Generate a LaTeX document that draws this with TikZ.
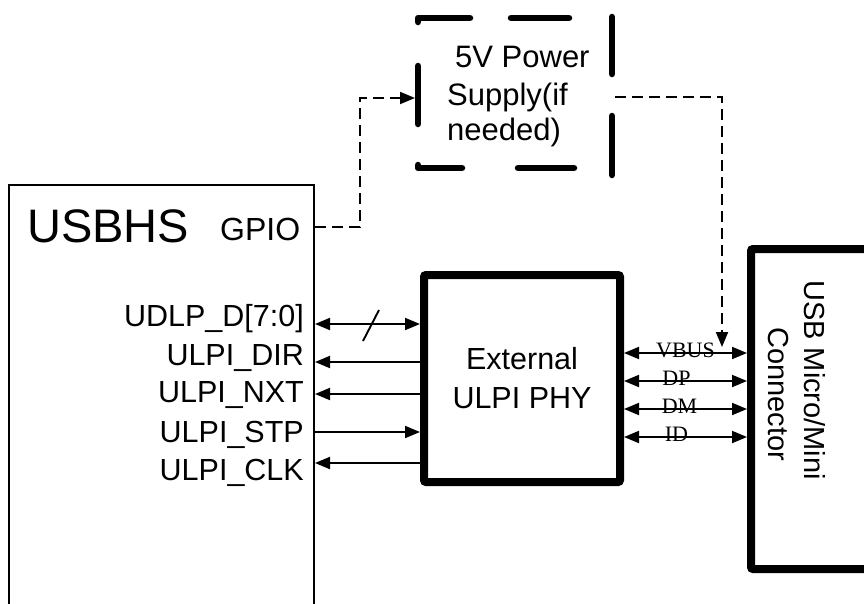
\documentclass[tikz,border=0pt]{standalone}
\usepackage{fontspec}
\setmainfont{Liberation Sans}
\newfontfamily\serifrm{Liberation Serif}
\usetikzlibrary{arrows.meta}
\begin{document}
\begin{tikzpicture}[x=1pt,y=-1pt,
  Tri/.tip={Triangle[length=15pt,width=12pt]},
  thinln/.style={line width=1.9pt},
  dshd/.style={dash pattern=on 11pt off 6pt},
  psdash/.style={line width=6.5pt, line cap=round, line join=round},
  lbl/.style={inner sep=0pt, font=\fontsize{30.5}{36}\selectfont},
  sig/.style={inner sep=0pt, anchor=base, yshift=-4pt, font=\serifrm\fontsize{22}{24}\selectfont},
  thick box/.style={draw, line width=8pt, rounded corners=2pt, inner sep=0pt}]
\useasboundingbox (0,0) rectangle (864,603);
\clip (0,0) rectangle (864,603);

% blocks
\node[draw, line width=2pt, minimum width=305pt, minimum height=455pt, inner sep=0pt] (usb) at (161.5,412.5) {};
\node[thick box, minimum width=196pt, minimum height=207pt, align=center,
      font=\fontsize{30.5}{39}\selectfont] (phy) at (522,378.5) {External\\ULPI PHY};
\node[thick box, minimum width=149pt, minimum height=320pt] (conn) at (825.5,409) {};
\node[minimum width=194pt, minimum height=150pt, outer sep=3pt, inner sep=0pt] (ps) at (515,93) {};

% dashed power supply border
\draw[psdash] (418,22) -- (418,18) -- (470,18);
\draw[psdash] (511,18) -- (569,18);
\draw[psdash] (612,17) -- (612,74);
\draw[psdash] (612,116) -- (612,175);
\draw[psdash] (518,168) -- (574,168);
\draw[psdash] (418,165) -- (418,168) -- (462,168);
\draw[psdash] (418,66) -- (418,124);

% texts
\node[inner sep=0pt, anchor=base west, font=\fontsize{47}{50}\selectfont] (tusb) at (27,242) {USBHS};
\node[inner sep=0pt, anchor=base west, font=\fontsize{32}{36}\selectfont] (tgpio) at (220,240) {GPIO};
\node[lbl, anchor=base east] (l1) at (304,326) {UDLP\_D[7:0]};
\node[lbl, anchor=base east] (l2) at (304,365) {ULPI\_DIR};
\node[lbl, anchor=base east] (l3) at (304,402) {ULPI\_NXT};
\node[lbl, anchor=base east] (l4) at (304,442) {ULPI\_STP};
\node[lbl, anchor=base east] (l5) at (304,480) {ULPI\_CLK};

\node[inner sep=0pt, anchor=base west, font=\fontsize{31}{36}\selectfont] (p1) at (455,67) {5V Power};
\node[inner sep=0pt, anchor=base west, font=\fontsize{31}{36}\selectfont] (p2) at (447,105) {Supply(if};
\node[inner sep=0pt, anchor=base west, font=\fontsize{31}{36}\selectfont] (p3) at (447,140) {needed)};

\node[inner sep=0pt, rotate=-90, anchor=base west, font=\fontsize{29}{34}\selectfont] (c1) at (804,280) {USB Micro/Mini};
\node[inner sep=0pt, rotate=-90, anchor=base west, font=\fontsize{29}{34}\selectfont] (c2) at (768,327) {Connector};

% left signal rows
\coordinate (r1) at (0,324);
\coordinate (r2) at (0,362);
\coordinate (r3) at (0,394);
\coordinate (r4) at (0,432);
\coordinate (r5) at (0,463);
\draw[thinln, Tri-Tri] (usb.east |- r1) -- (phy.west |- r1);
\draw[thinln, Tri-] (usb.east |- r2) -- (phy.west |- r2);
\draw[thinln, Tri-] (usb.east |- r3) -- (phy.west |- r3);
\draw[thinln, -Tri] (usb.east |- r4) -- (phy.west |- r4);
\draw[thinln, Tri-] (usb.east |- r5) -- (phy.west |- r5);
\draw[thinln] (363,341) -- (379,310);

% right signal rows
\coordinate (v1) at (0,353);
\coordinate (v2) at (0,381);
\coordinate (v3) at (0,409);
\coordinate (v4) at (0,437);
\draw[thinln, Tri-Tri] (phy.east |- v1) -- node[sig] (s1) {VBUS} (conn.west |- v1);
\draw[thinln, Tri-Tri] (phy.east |- v2) -- node[sig, xshift=-9pt] (s2) {DP} (conn.west |- v2);
\draw[thinln, Tri-Tri] (phy.east |- v3) -- node[sig, xshift=-6pt] (s3) {DM} (conn.west |- v3);
\draw[thinln, Tri-Tri] (phy.east |- v4) -- node[sig, xshift=-9pt] (s4) {ID} (conn.west |- v4);

% dashed control/power lines
\coordinate (g) at (0,227);
\coordinate (bend) at (360,98);
\draw[thinln, dshd, -Tri] (usb.east |- g) -| (bend) -- (ps.west |- bend);
\coordinate (pw) at (0,97);
\coordinate (vb) at (722,347);
\draw[thinln, dshd, -Tri] (ps.east |- pw) -| (vb);
\end{tikzpicture}
\end{document}
